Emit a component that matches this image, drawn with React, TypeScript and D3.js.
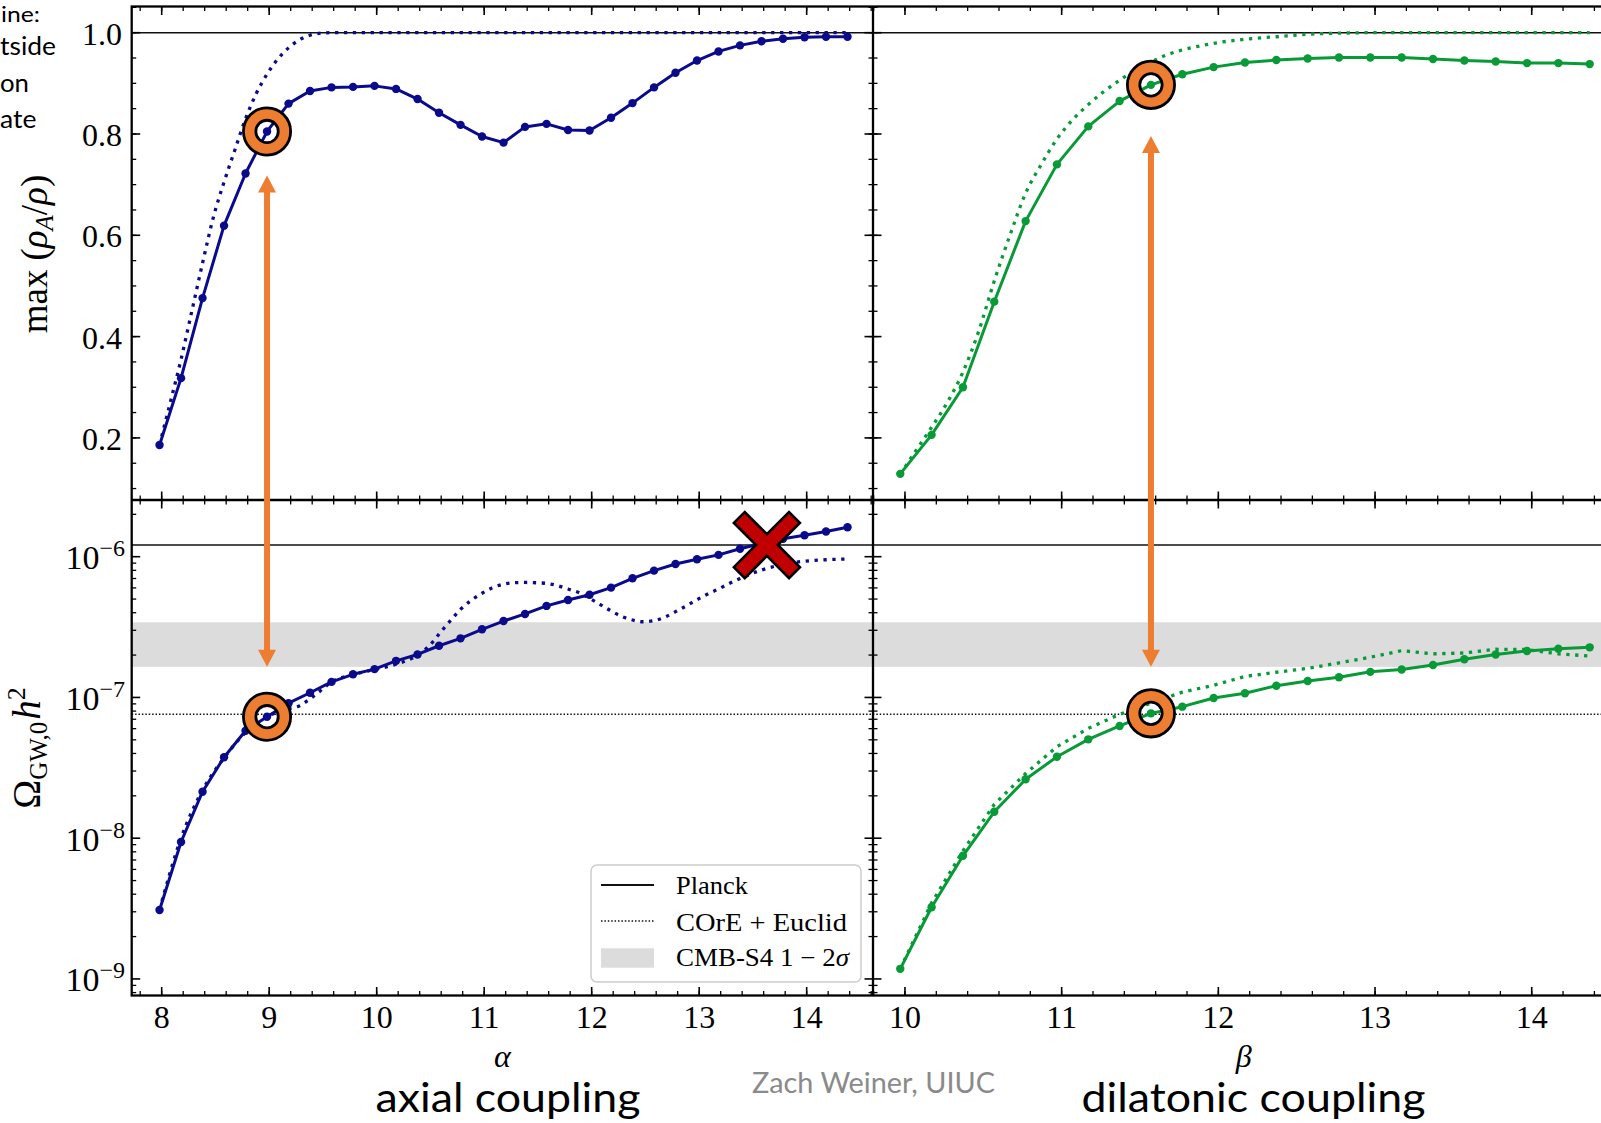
import React from 'react';
import * as d3 from 'd3';

// ---- coupling grids -------------------------------------------------------
const alphaValues = [
  7.98, 8.18, 8.38, 8.58, 8.78, 8.98, 9.18, 9.38, 9.58, 9.78, 9.98, 10.18, 10.38,
  10.58, 10.78, 10.98, 11.18, 11.38, 11.58, 11.78, 11.98, 12.18, 12.38, 12.58,
  12.78, 12.98, 13.18, 13.38, 13.58, 13.78, 13.98, 14.18, 14.38,
];
const betaValues = [
  9.97, 10.17, 10.37, 10.57, 10.77, 10.97, 11.17, 11.37, 11.57, 11.77, 11.97,
  12.17, 12.37, 12.57, 12.77, 12.97, 13.17, 13.37, 13.57, 13.77, 13.97, 14.17, 14.37,
];

// ---- max(rho_A / rho) -----------------------------------------------------
const axialMaxFraction = [
  0.186, 0.318, 0.476, 0.619, 0.722, 0.805, 0.86, 0.885, 0.892, 0.893, 0.895, 0.889,
  0.869, 0.842, 0.818, 0.795, 0.783, 0.814, 0.82, 0.808, 0.807, 0.832, 0.861, 0.892,
  0.921, 0.945, 0.963, 0.975, 0.983, 0.988, 0.991, 0.992, 0.992,
];
const dilatonicMaxFraction = [
  0.129, 0.206, 0.3, 0.469, 0.628, 0.74, 0.815, 0.865, 0.897, 0.918, 0.932, 0.941,
  0.946, 0.949, 0.951, 0.951, 0.951, 0.948, 0.945, 0.943, 0.94, 0.94, 0.938,
];
// COrE + Euclid cosmology
const alphaCoreFractionGrid = [
  7.98, 8.08, 8.18, 8.28, 8.38, 8.48, 8.58, 8.68, 8.78, 8.88, 8.98, 9.08, 9.18, 9.28,
  9.38, 9.48, 9.58, 9.78, 10.38, 11.38, 12.38, 13.38, 14.38,
];
const axialMaxFractionCore = [
  0.186, 0.27, 0.355, 0.45, 0.545, 0.635, 0.705, 0.768, 0.83, 0.88, 0.918, 0.948,
  0.97, 0.986, 0.995, 0.999, 1.0, 1.0, 1.0, 1.0, 1.0, 1.0, 1.0,
];
const betaCoreFractionGrid = [
  9.97, 10.07, 10.17, 10.27, 10.37, 10.47, 10.57, 10.67, 10.77, 10.87, 10.97, 11.07,
  11.17, 11.27, 11.37, 11.47, 11.57, 11.67, 11.77, 11.87, 11.97, 12.17, 12.37, 12.57,
  12.77, 12.97, 13.17, 13.57, 13.97, 14.37,
];
const dilatonicMaxFractionCore = [
  0.128, 0.175, 0.221, 0.27, 0.33, 0.41, 0.51, 0.6, 0.683, 0.74, 0.79, 0.828, 0.858,
  0.884, 0.906, 0.926, 0.942, 0.956, 0.966, 0.973, 0.979, 0.987, 0.992, 0.997, 0.999,
  1.0, 1.0, 1.0, 1.0, 1.0,
];

// ---- Omega_GW,0 h^2 ---------------------------------------------------------
const axialOmegaGW = [
  3.09e-9, 9.4e-9, 2.14e-8, 3.76e-8, 5.8e-8, 7.3e-8, 9.1e-8, 1.08e-7, 1.29e-7, 1.46e-7,
  1.59e-7, 1.82e-7, 2.02e-7, 2.33e-7, 2.63e-7, 3.05e-7, 3.49e-7, 3.92e-7, 4.47e-7,
  4.92e-7, 5.37e-7, 6.03e-7, 7.02e-7, 7.96e-7, 8.88e-7, 9.58e-7, 1.03e-6, 1.14e-6,
  1.24e-6, 1.34e-6, 1.42e-6, 1.51e-6, 1.62e-6,
];
const dilatonicOmegaGW = [
  1.18e-9, 3.23e-9, 7.5e-9, 1.54e-8, 2.62e-8, 3.79e-8, 5.04e-8, 6.27e-8, 7.71e-8, 8.6e-8,
  9.9e-8, 1.07e-7, 1.21e-7, 1.31e-7, 1.39e-7, 1.52e-7, 1.58e-7, 1.7e-7, 1.87e-7, 2.02e-7,
  2.14e-7, 2.22e-7, 2.27e-7,
];
const alphaCoreOmegaGrid = [
  7.98, 8.18, 8.38, 8.58, 8.78, 8.98, 9.08, 9.18, 9.28, 9.38, 9.48, 9.58, 9.78, 9.98,
  10.18, 10.38, 10.48, 10.58, 10.68, 10.78, 10.88, 10.98, 11.08, 11.18, 11.28, 11.38,
  11.48, 11.58, 11.68, 11.78, 11.88, 11.98, 12.08, 12.18, 12.28, 12.38, 12.48, 12.58,
  12.68, 12.78, 12.88, 12.98, 13.08, 13.18, 13.28, 13.38, 13.58, 13.78, 13.98, 14.18,
  14.38,
];
const axialOmegaGWCore = [
  3.09e-9, 1.0e-8, 2.19e-8, 3.72e-8, 5.62e-8, 7.24e-8, 7.94e-8, 8.32e-8, 8.71e-8,
  9.77e-8, 1.12e-7, 1.29e-7, 1.45e-7, 1.58e-7, 1.72e-7, 2.0e-7, 2.29e-7, 2.82e-7,
  3.47e-7, 4.22e-7, 4.9e-7, 5.5e-7, 6.03e-7, 6.38e-7, 6.53e-7, 6.56e-7, 6.53e-7,
  6.46e-7, 6.24e-7, 5.89e-7, 5.56e-7, 5.07e-7, 4.57e-7, 4.12e-7, 3.76e-7, 3.55e-7,
  3.45e-7, 3.51e-7, 3.72e-7, 4.07e-7, 4.47e-7, 4.95e-7, 5.43e-7, 5.89e-7, 6.46e-7,
  7.0e-7, 8.04e-7, 8.81e-7, 9.29e-7, 9.51e-7, 9.64e-7,
];
const dilatonicOmegaGWCore = [
  1.18e-9, 3.47e-9, 8.13e-9, 1.74e-8, 2.88e-8, 4.47e-8, 6.03e-8, 7.59e-8, 9.12e-8,
  1.09e-7, 1.22e-7, 1.41e-7, 1.51e-7, 1.61e-7, 1.76e-7, 1.93e-7, 2.15e-7, 2.04e-7,
  2.07e-7, 2.2e-7, 2.19e-7, 2.04e-7, 1.97e-7,
];

// ---- constraints ----------------------------------------------------------
const planckFraction = 1.0;
const planckOmega = 1.21e-6;
const coreEuclidOmega = 7.6e-8;
const cmbS4Band = [1.65e-7, 3.42e-7];

// ---- ticks ----------------------------------------------------------------
const alphaTicks = [8, 9, 10, 11, 12, 13, 14];
const betaTicks = [10, 11, 12, 13, 14];
const fractionTicks = [0.2, 0.4, 0.6, 0.8, 1.0];
const omegaDecades = [-9, -8, -7, -6];

// ---- highlighted runs -----------------------------------------------------
const alphaChosen = 8.98;
const betaChosen = 11.57;
const alphaArrowTop = 0.718;
const betaArrowTop = 0.796;
const alphaExcluded = 13.63;

// ---- style / layout -------------------------------------------------------
const W = 1601;
const H = 1123;
const XL = 131.7;
const XM = 873;
const XR = 1614.3;
const YT = 6.5;
const YM = 500;
const YB = 995.5;
const BLUE = '#0a0a8c';
const GREEN = '#079a36';
const ORANGE = '#ED7D31';
const RED = '#C00000';
const BAND = '#dcdcdc';
const SERIF = '"Liberation Serif", "Times New Roman", serif';
const SANS = 'Lato, "Open Sans", sans-serif';

type Sc = (v: number) => number;

function minorLinear(lo: number, hi: number, step: number) {
  const out: number[] = [];
  for (let v = Math.ceil(lo / step) * step; v <= hi + 1e-9; v += step) out.push(+v.toFixed(4));
  return out;
}

function minorLog(lo: number, hi: number) {
  const out: number[] = [];
  for (let k = -11; k <= -4; k++) {
    for (let m = 2; m <= 9; m++) {
      const v = m * Math.pow(10, k);
      if (v >= lo && v <= hi) out.push(v);
    }
  }
  return out;
}

function panelTicks(
  key: string, xs: Sc, ys: Sc,
  xMajor: number[], xMinor: number[], yMajor: number[], yMinor: number[],
  x0: number, x1: number, y0: number, y1: number,
) {
  const els: React.ReactNode[] = [];
  const put = (vals: number[], len: number, w: number, kind: string) => {
    vals.forEach((v, i) => {
      if (kind === 'x') {
        const x = xs(v);
        if (x < x0 - 0.5 || x > x1 + 0.5) return;
        els.push(<line key={`${key}x${len}b${i}`} x1={x} x2={x} y1={y1} y2={y1 - len} stroke="#000" strokeWidth={w} />);
        els.push(<line key={`${key}x${len}t${i}`} x1={x} x2={x} y1={y0} y2={y0 + len} stroke="#000" strokeWidth={w} />);
      } else {
        const y = ys(v);
        if (y < y0 - 0.5 || y > y1 + 0.5) return;
        els.push(<line key={`${key}y${len}l${i}`} x1={x0} x2={x0 + len} y1={y} y2={y} stroke="#000" strokeWidth={w} />);
        els.push(<line key={`${key}y${len}r${i}`} x1={x1} x2={x1 - len} y1={y} y2={y} stroke="#000" strokeWidth={w} />);
      }
    });
  };
  put(xMinor, 4.5, 1.3, 'x');
  put(xMajor, 8.5, 1.6, 'x');
  put(yMinor, 4.5, 1.3, 'y');
  put(yMajor, 8.5, 1.6, 'y');
  return els;
}

function ring(cx: number, cy: number, key: string) {
  const R = 23.6;
  const r = 11.2;
  const circ = (rad: number) =>
    `M${cx + rad},${cy}A${rad},${rad} 0 1 0 ${cx - rad},${cy}A${rad},${rad} 0 1 0 ${cx + rad},${cy}Z`;
  return (
    <path key={key} d={circ(R) + circ(r)} fill={ORANGE} fillRule="evenodd" stroke="#000" strokeWidth={2.8} />
  );
}

function arrow(x: number, yTop: number, yBot: number, key: string) {
  const h = 17;
  const hw = 9;
  return (
    <g key={key} fill={ORANGE}>
      <line x1={x} x2={x} y1={yTop + h - 1} y2={yBot - h + 1} stroke={ORANGE} strokeWidth={6} />
      <path d={`M${x},${yTop}L${x - hw},${yTop + h}L${x + hw},${yTop + h}Z`} />
      <path d={`M${x},${yBot}L${x - hw},${yBot - h}L${x + hw},${yBot - h}Z`} />
    </g>
  );
}

function cross(cx: number, cy: number) {
  const a = 39;
  const b = 7.7;
  const plus = [
    [b, -a], [b, -b], [a, -b], [a, b], [b, b], [b, a],
    [-b, a], [-b, b], [-a, b], [-a, -b], [-b, -b], [-b, -a],
  ];
  const s = Math.SQRT1_2;
  const pts = plus.map(([x, y]) => [cx + (x - y) * s, cy + (x + y) * s]);
  return (
    <path d={'M' + pts.map((p) => p.join(',')).join('L') + 'Z'} fill={RED} stroke="#000" strokeWidth={2.6} strokeLinejoin="miter" />
  );
}

export default function App() {
  const xA = d3.scaleLinear().domain([7.721, 14.617]).range([XL, XM]);
  const xB = d3.scaleLinear().domain([9.796, 14.527]).range([XM, XR]);
  const yF = d3.scaleLinear().domain([0.0774, 1.0517]).range([YM, YT]);
  const yO = d3.scaleLog().domain([Math.pow(10, -9.1176), Math.pow(10, -5.5972)]).range([YB, YM]);

  const mk = (xs: Sc, ys: Sc, curve: d3.CurveFactory) =>
    d3.line<[number, number]>().x((d) => xs(d[0])).y((d) => ys(d[1])).curve(curve);
  const zip = (a: number[], b: number[]) => a.map((v, i) => [v, b[i]] as [number, number]);

  const solidStyle = (c: string) => ({ fill: 'none', stroke: c, strokeWidth: 3, strokeLinejoin: 'round' as const });
  const dotStyle = (c: string) => ({ fill: 'none', stroke: c, strokeWidth: 3.3, strokeDasharray: '3.3 5.6' });

  const series = [
    { clip: 'cUL', xs: xA, ys: yF, x: alphaValues, y: axialMaxFraction, cx: alphaCoreFractionGrid, cy: axialMaxFractionCore, c: BLUE, smooth: true },
    { clip: 'cUR', xs: xB, ys: yF, x: betaValues, y: dilatonicMaxFraction, cx: betaCoreFractionGrid, cy: dilatonicMaxFractionCore, c: GREEN, smooth: true },
    { clip: 'cLL', xs: xA, ys: yO, x: alphaValues, y: axialOmegaGW, cx: alphaCoreOmegaGrid, cy: axialOmegaGWCore, c: BLUE, smooth: true },
    { clip: 'cLR', xs: xB, ys: yO, x: betaValues, y: dilatonicOmegaGW, cx: betaValues, cy: dilatonicOmegaGWCore, c: GREEN, smooth: false },
  ];

  const fracMinor = minorLinear(0.08, 1.05, 0.05);
  const omegaMajor = omegaDecades.map((k) => Math.pow(10, k));
  const omegaMinor = minorLog(yO.domain()[0], yO.domain()[1]);
  const alphaMinor = minorLinear(7.8, 14.6, 0.2);
  const betaMinor = minorLinear(9.8, 14.6, 0.2);

  const ticks = [
    ...panelTicks('ul', xA, yF, alphaTicks, alphaMinor, fractionTicks, fracMinor, XL, XM, YT, YM),
    ...panelTicks('ur', xB, yF, betaTicks, betaMinor, fractionTicks, fracMinor, XM, XR, YT, YM),
    ...panelTicks('ll', xA, yO, alphaTicks, alphaMinor, omegaMajor, omegaMinor, XL, XM, YM, YB),
    ...panelTicks('lr', xB, yO, betaTicks, betaMinor, omegaMajor, omegaMinor, XM, XR, YM, YB),
  ];

  const legendX = 591;
  const legendY = 865;

  return (
    <svg width={W} height={H} viewBox={`0 0 ${W} ${H}`} style={{ position: 'absolute', left: 0, top: 0, background: '#fff' }}>
      <defs>
        <clipPath id="cUL"><rect x={XL} y={YT} width={XM - XL} height={YM - YT} /></clipPath>
        <clipPath id="cUR"><rect x={XM} y={YT} width={XR - XM} height={YM - YT} /></clipPath>
        <clipPath id="cLL"><rect x={XL} y={YM} width={XM - XL} height={YB - YM} /></clipPath>
        <clipPath id="cLR"><rect x={XM} y={YM} width={XR - XM} height={YB - YM} /></clipPath>
      </defs>
      <rect x={0} y={0} width={W} height={H} fill="#fff" />

      {/* CMB-S4 band and reference bounds */}
      <rect x={XL} y={yO(cmbS4Band[1])} width={XR - XL} height={yO(cmbS4Band[0]) - yO(cmbS4Band[1])} fill={BAND} />
      <line x1={XL} x2={XR} y1={yF(planckFraction)} y2={yF(planckFraction)} stroke="#111" strokeWidth={1.6} />
      <line x1={XL} x2={XR} y1={yO(planckOmega)} y2={yO(planckOmega)} stroke="#111" strokeWidth={1.6} />
      <line x1={XL} x2={XR} y1={yO(coreEuclidOmega)} y2={yO(coreEuclidOmega)} stroke="#111" strokeWidth={1.5} strokeDasharray="1.5 1.9" />

      {/* simulation results */}
      {series.map((s, i) => {
        const solid = mk(s.xs, s.ys, d3.curveLinear)(zip(s.x, s.y)) || '';
        const dotted = mk(s.xs, s.ys, s.smooth ? d3.curveMonotoneX : d3.curveLinear)(zip(s.cx, s.cy)) || '';
        return (
          <g key={`s${i}`} clipPath={`url(#${s.clip})`}>
            <path d={dotted} {...dotStyle(s.c)} />
            <path d={solid} {...solidStyle(s.c)} />
            {s.x.map((v, j) => (
              <circle key={j} cx={s.xs(v)} cy={s.ys(s.y[j])} r={4.2} fill={s.c} />
            ))}
          </g>
        );
      })}

      {/* axes frames */}
      {ticks}
      <rect x={XL} y={YT} width={XR - XL} height={YB - YT} fill="none" stroke="#000" strokeWidth={2.3} />
      <line x1={XM} x2={XM} y1={YT} y2={YB} stroke="#000" strokeWidth={2.3} />
      <line x1={XL} x2={XR} y1={YM} y2={YM} stroke="#000" strokeWidth={2.3} />

      {/* tick labels */}
      <g fontFamily={SERIF} fontSize={32} fill="#000">
        {fractionTicks.map((v) => (
          <text key={`f${v}`} x={122} y={yF(v) + 12} textAnchor="end">{v.toFixed(1)}</text>
        ))}
        {omegaDecades.map((k) => (
          <text key={`o${k}`} x={125} y={yO(Math.pow(10, k)) + 12.5} textAnchor="end" fontSize={34}>
            10<tspan fontSize={24} dy={-13}>{`\u2212${-k}`}</tspan>
          </text>
        ))}
        {alphaTicks.map((v) => (
          <text key={`a${v}`} x={xA(v)} y={1028} textAnchor="middle">{v}</text>
        ))}
        {betaTicks.map((v) => (
          <text key={`b${v}`} x={xB(v)} y={1028} textAnchor="middle">{v}</text>
        ))}
      </g>

      {/* axis labels */}
      <g fontFamily={SERIF} fill="#000">
        <text x={(XL + XM) / 2} y={1067} fontSize={32} fontStyle="italic" textAnchor="middle">α</text>
        <text x={1243.6} y={1067} fontSize={32} fontStyle="italic" textAnchor="middle">β</text>
        <text transform="translate(47,254) rotate(-90)" textAnchor="middle" fontSize={37}>
          <tspan>max</tspan>
          <tspan dx={9}>(</tspan>
          <tspan fontStyle="italic">ρ</tspan>
          <tspan fontStyle="italic" fontSize={25} dy={6}>A</tspan>
          <tspan dy={-6}>/</tspan>
          <tspan fontStyle="italic">ρ</tspan>
          <tspan>)</tspan>
        </text>
        <text transform="translate(40,748) rotate(-90)" textAnchor="middle" fontSize={39}>
          <tspan>Ω</tspan>
          <tspan fontSize={25} dy={7}>GW,0</tspan>
          <tspan fontStyle="italic" dy={-7} dx={2}>h</tspan>
          <tspan fontSize={26} dy={-15}>2</tspan>
        </text>
      </g>

      {/* legend */}
      <g>
        <rect x={legendX} y={legendY} width={270} height={117} rx={6} fill="#fff" fillOpacity={0.85} stroke="#cccccc" strokeWidth={1.5} />
        <line x1={601} x2={654} y1={885} y2={885} stroke="#111" strokeWidth={2} />
        <line x1={601} x2={654} y1={921} y2={921} stroke="#111" strokeWidth={1.5} strokeDasharray="1.5 1.9" />
        <rect x={601} y={948.3} width={53} height={19.4} fill={BAND} />
        <g fontFamily={SERIF} fontSize={25} fill="#000">
          <text x={676} y={894} textLength={72} lengthAdjust="spacingAndGlyphs">Planck</text>
          <text x={676} y={931} textLength={171} lengthAdjust="spacingAndGlyphs">COrE + Euclid</text>
          <text x={676} y={966} textLength={173} lengthAdjust="spacingAndGlyphs">
            CMB-S4 1 − 2<tspan fontStyle="italic">σ</tspan>
          </text>
        </g>
      </g>

      {/* highlighted runs */}
      {arrow(xA(alphaChosen), yF(alphaArrowTop), yO(cmbS4Band[0]), 'ar1')}
      {arrow(xB(betaChosen), yF(betaArrowTop), yO(cmbS4Band[0]), 'ar2')}
      {ring(xA(alphaChosen), yF(axialMaxFraction[alphaValues.indexOf(alphaChosen)]), 'r1')}
      {ring(xA(alphaChosen), yO(axialOmegaGW[alphaValues.indexOf(alphaChosen)]), 'r2')}
      {ring(xB(betaChosen), yF(dilatonicMaxFraction[betaValues.indexOf(betaChosen)]), 'r3')}
      {ring(xB(betaChosen), yO(dilatonicOmegaGW[betaValues.indexOf(betaChosen)]), 'r4')}
      {cross(xA(alphaExcluded), yO(planckOmega))}

      {/* slide text */}
      <g fontFamily={SANS} fill="#000">
        <text x={1} y={22} fontSize={22} textLength={39} lengthAdjust="spacingAndGlyphs">ine:</text>
        <text x={0} y={55} fontSize={25} textLength={56} lengthAdjust="spacingAndGlyphs">tside</text>
        <text x={0} y={91.5} fontSize={25} textLength={29} lengthAdjust="spacingAndGlyphs">on</text>
        <text x={0} y={128} fontSize={25} textLength={36.5} lengthAdjust="spacingAndGlyphs">ate</text>
        <text x={375.5} y={1112} fontSize={41} textLength={265} lengthAdjust="spacingAndGlyphs">axial coupling</text>
        <text x={1081.5} y={1112} fontSize={41} textLength={344} lengthAdjust="spacingAndGlyphs">dilatonic coupling</text>
        <text x={752} y={1093} fontSize={28} fill="#8a8a8a" textLength={243} lengthAdjust="spacingAndGlyphs">Zach Weiner, UIUC</text>
      </g>
    </svg>
  );
}
